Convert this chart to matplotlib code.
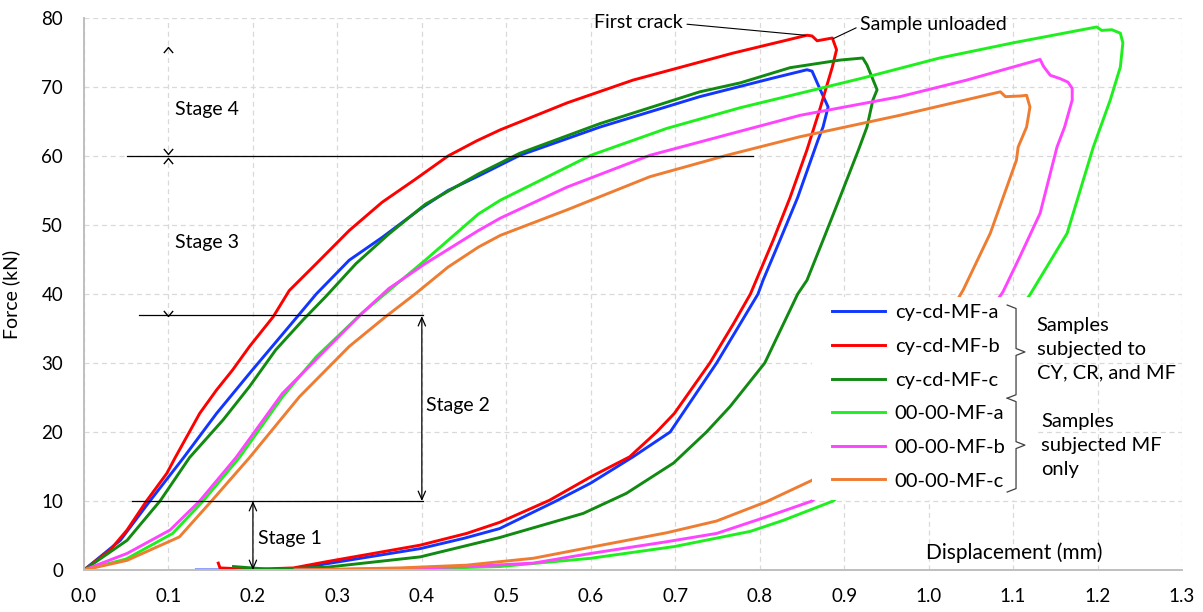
import matplotlib
matplotlib.use('Agg')
from matplotlib import pyplot as plt
from matplotlib.path import Path
from matplotlib.patches import Rectangle

# load-displacement curves (loading branch, peak, unloading branch)
a_cy_x = [0, 0.043, 0.078, 0.118, 0.157, 0.196, 0.249, 0.275, 0.314, 0.353, 0.4, 0.431, 0.467, 0.516, 0.611,
          0.729, 0.816, 0.856, 0.862, 0.871, 0.881, 0.875, 0.869, 0.845, 0.824, 0.804, 0.798, 0.777, 0.749,
          0.694, 0.65, 0.6, 0.559, 0.492, 0.45, 0.398, 0.287, 0.248, 0.2, 0.133]
a_cy_y = [0, 4.3, 10, 16.3, 22.7, 28.5, 36.2, 40, 44.9, 48.2, 52.5, 55, 57.1, 60.1, 64.2,
          68.6, 71.3, 72.5, 72.3, 69.8, 67.1, 64.2, 62.3, 54, 47.8, 42, 40, 35.7, 30,
          20, 16.4, 12.6, 10, 6.0, 4.6, 3.1, 0.9, 0.1, 0, 0]

b_cy_x = [0, 0.031, 0.051, 0.074, 0.098, 0.108, 0.137, 0.157, 0.176, 0.196, 0.224, 0.243, 0.275, 0.314, 0.353,
          0.392, 0.431, 0.465, 0.493, 0.572, 0.65, 0.768, 0.856, 0.862, 0.868, 0.886, 0.891, 0.886, 0.871,
          0.856, 0.836, 0.816, 0.789, 0.769, 0.741, 0.699, 0.678, 0.646, 0.6, 0.551, 0.492, 0.453, 0.398,
          0.287, 0.248, 0.2, 0.161, 0.159]
b_cy_y = [0, 2.9, 5.8, 10, 14, 16.3, 22.7, 26.1, 29, 32.4, 36.7, 40.5, 44.4, 49.2, 53.3,
          56.6, 60, 62.2, 63.8, 67.7, 71, 74.9, 77.5, 77.4, 76.7, 77.1, 75.4, 72.9, 66.7,
          60.9, 54, 47.8, 40, 35.7, 30, 22.7, 20, 16.4, 13.5, 10.1, 6.9, 5.3, 3.6,
          1.2, 0.3, 0.1, 0.3, 1.0]

c_cy_x = [0, 0.051, 0.09, 0.125, 0.165, 0.196, 0.227, 0.259, 0.286, 0.322, 0.361, 0.404, 0.467, 0.516, 0.611,
          0.729, 0.777, 0.836, 0.895, 0.922, 0.927, 0.933, 0.939, 0.934, 0.927, 0.917, 0.895, 0.875, 0.856,
          0.845, 0.806, 0.765, 0.737, 0.698, 0.642, 0.591, 0.492, 0.398, 0.287, 0.22, 0.177]
c_cy_y = [0, 4.3, 10, 16.3, 21.8, 26.6, 31.9, 36.2, 39.6, 44.4, 48.7, 53, 57.4, 60.4, 64.7,
          69.3, 70.6, 72.8, 73.9, 74.2, 73.2, 71.4, 69.6, 68.1, 64.2, 60.9, 54, 47.8, 42,
          40, 30, 23.7, 20, 15.5, 11.1, 8.2, 4.7, 1.9, 0.4, 0.1, 0.5]

a_mf_x = [0, 0.05, 0.105, 0.141, 0.184, 0.235, 0.275, 0.329, 0.361, 0.404, 0.467, 0.493, 0.6, 0.69,
          0.777, 0.848, 0.922, 1.013, 1.1, 1.199, 1.205, 1.217, 1.227, 1.23, 1.227, 1.215, 1.195, 1.164,
          1.12, 1.06, 0.98, 0.887, 0.828, 0.789, 0.699, 0.6, 0.492, 0.374, 0.25]
a_mf_y = [0, 1.6, 5.3, 10, 16.3, 25.1, 30.9, 37.2, 40.5, 44.9, 51.6, 53.6, 60.1, 64,
          67, 69.1, 71.3, 74.2, 76.4, 78.7, 78.2, 78.3, 77.8, 76.4, 72.9, 68.1, 61.3, 48.8,
          39.9, 30, 20, 10, 7.2, 5.6, 3.4, 1.7, 0.5, 0.1, 0]

b_mf_x = [0, 0.051, 0.102, 0.137, 0.18, 0.235, 0.286, 0.329, 0.361, 0.404, 0.467, 0.493, 0.572, 0.67,
          0.768, 0.848, 0.966, 1.045, 1.132, 1.136, 1.144, 1.156, 1.165, 1.17, 1.17, 1.161, 1.152, 1.132,
          1.108, 1.088, 1.03, 0.95, 0.862, 0.848, 0.808, 0.749, 0.69, 0.6, 0.532, 0.453, 0.374, 0.25]
b_mf_y = [0, 2.4, 5.8, 10, 16.3, 25.6, 31.9, 37.2, 40.8, 44.4, 49.2, 51.0, 55.5, 60.1,
          63.3, 65.9, 68.6, 71, 74.0, 73.0, 71.7, 71.2, 70.7, 69.8, 68.1, 64.2, 61.3, 51.7,
          45.4, 40.3, 30, 20, 10, 9.4, 7.7, 5.3, 4.1, 2.4, 1.0, 0.5, 0.2, 0]

c_mf_x = [0, 0.051, 0.113, 0.151, 0.196, 0.255, 0.314, 0.357, 0.392, 0.431, 0.467, 0.493, 0.572, 0.67, 0.761,
          0.848, 0.966, 1.085, 1.091, 1.109, 1.116, 1.12, 1.116, 1.106, 1.104, 1.073, 1.041, 0.99, 0.93,
          0.862, 0.848, 0.808, 0.749, 0.69, 0.6, 0.532, 0.492, 0.453, 0.374, 0.25]
c_mf_y = [0, 1.4, 4.8, 10, 16.3, 25.1, 32.4, 36.7, 40, 43.9, 46.8, 48.5, 52.2, 57, 60.1,
          62.8, 65.9, 69.3, 68.6, 68.7, 68.8, 67.1, 64.2, 61.3, 59.4, 48.8, 40.6, 30, 21,
          13, 12.2, 9.9, 7.1, 5.4, 3.3, 1.7, 1.2, 0.7, 0.3, 0]

labels = ['cy-cd-MF-a', 'cy-cd-MF-b', 'cy-cd-MF-c', '00-00-MF-a', '00-00-MF-b', '00-00-MF-c']
colors = ['#1236ff', '#ff0000', '#118a11', '#1ef01e', '#ff44ff', '#ee7d32']
xs = [a_cy_x, b_cy_x, c_cy_x, a_mf_x, b_mf_x, c_mf_x]
ys = [a_cy_y, b_cy_y, c_cy_y, a_mf_y, b_mf_y, c_mf_y]

x_ticks = [0.0, 0.1, 0.2, 0.3, 0.4, 0.5, 0.6, 0.7, 0.8, 0.9, 1.0, 1.1, 1.2, 1.3]
y_ticks = [0, 10, 20, 30, 40, 50, 60, 70, 80]

stage_lines = [(60, 0.051, 0.792), (37, 0.065, 0.401), (10, 0.057, 0.401)]

plt.rcParams['font.family'] = ['Lato', 'DejaVu Sans']
plt.rcParams['font.size'] = 14

fig = plt.figure(figsize=(12.03, 6.12), dpi=100)
ax = fig.add_axes([84 / 1203, 42 / 612, 1098 / 1203, 552 / 612])

for x, y, c, lab in zip(xs, ys, colors, labels):
	ax.plot(x, y, color=c, lw=2.1, label=lab, zorder=2, solid_joinstyle='round')

ax.set_xlim(0, 1.3)
ax.set_ylim(0, 80)
ax.set_xticks(x_ticks)
ax.set_xticklabels(['%.1f' % v for v in x_ticks])
ax.set_yticks(y_ticks)
ax.tick_params(axis='x', length=0, pad=13, labelsize=13.5)
ax.tick_params(axis='y', length=0, pad=15, labelsize=13.5)
ax.grid(True, color='#d9d9d9', ls=(0, (4, 3)), lw=0.9, zorder=0)
ax.set_axisbelow(True)
for s in ['top', 'right']:
	ax.spines[s].set_visible(False)
for s in ['left', 'bottom']:
	ax.spines[s].set_color('#bfbfbf')
	ax.spines[s].set_linewidth(1.4)

ax.set_ylabel('Force (kN)', fontsize=14)
ax.yaxis.set_label_coords(-0.058, 0.5)
ax.text(1.101, 2.5, 'Displacement (mm)', ha='center', va='center', fontsize=15)

# stage markers
for yv, x0, x1 in stage_lines:
	ax.plot([x0, x1], [yv, yv], color='black', lw=0.9, zorder=3)

arrow = dict(arrowstyle='<->,head_length=0.5,head_width=0.22', color='black', lw=0.9,
			 shrinkA=0, shrinkB=0, mutation_scale=12)
ax.annotate('', xy=(0.2, 0), xytext=(0.2, 10), arrowprops=arrow)
ax.annotate('', xy=(0.4, 10), xytext=(0.4, 36.8), arrowprops=arrow)

up = Path([(-1, -1.2), (0, 0), (1, -1.2)])
down = Path([(-1, 1.2), (0, 0), (1, 1.2)])
ax.plot([0.1, 0.1], [75.8, 59.7], ls='none', marker=up, ms=8, mfc='none', mec='black', mew=1)
ax.plot([0.1, 0.1], [60.3, 36.8], ls='none', marker=down, ms=8, mfc='none', mec='black', mew=1)

ax.text(0.108, 66.7, 'Stage 4', va='center', fontsize=14)
ax.text(0.108, 47.5, 'Stage 3', va='center', fontsize=14)
ax.text(0.405, 23.9, 'Stage 2', va='center', fontsize=14)
ax.text(0.206, 4.6, 'Stage 1', va='center', fontsize=14)

ax.annotate('First crack', xy=(0.854, 77.5), xytext=(0.709, 79.4), ha='right', va='center', fontsize=14,
			arrowprops=dict(arrowstyle='-', lw=0.8, color='black', shrinkA=1, shrinkB=0, relpos=(1, 0.4)))
ax.annotate('Sample unloaded', xy=(0.887, 77.0), xytext=(0.919, 79.1), ha='left', va='center', fontsize=14,
			arrowprops=dict(arrowstyle='-', lw=0.8, color='black', shrinkA=1, shrinkB=0, relpos=(0, 0.4)))

# legend area
ax.add_patch(Rectangle((0.862, 10.2), 0.265, 29.4, facecolor='white', edgecolor='none', zorder=3))
leg = ax.legend(loc='upper left', bbox_to_anchor=(0.886, 38.5), bbox_transform=ax.transData,
				frameon=False, borderpad=0, borderaxespad=0, handlelength=2.6, handletextpad=0.5,
				labelspacing=0.82, fontsize=14.5)
leg.set_zorder(4)

for top, mid, bot in [(38.4, 31.6, 24.9), (24.9, 18.1, 11.3)]:
	bx = [1.093, 1.1035, 1.1035, 1.114, 1.1035, 1.1035, 1.093]
	by = [top, top - 0.5, mid + 0.5, mid, mid - 0.5, bot + 0.5, bot]
	ax.plot(bx, by, color='#404040', lw=0.9, zorder=5)

ax.text(1.128, 32.0, 'Samples\nsubjected to\nCY, CR, and MF', va='center', ha='left', fontsize=14.5,
		linespacing=1.5, zorder=5)
ax.text(1.133, 18.1, 'Samples\nsubjected MF\nonly', va='center', ha='left', fontsize=14.5,
		linespacing=1.5, zorder=5)

fig.savefig('out.png', dpi=100)
